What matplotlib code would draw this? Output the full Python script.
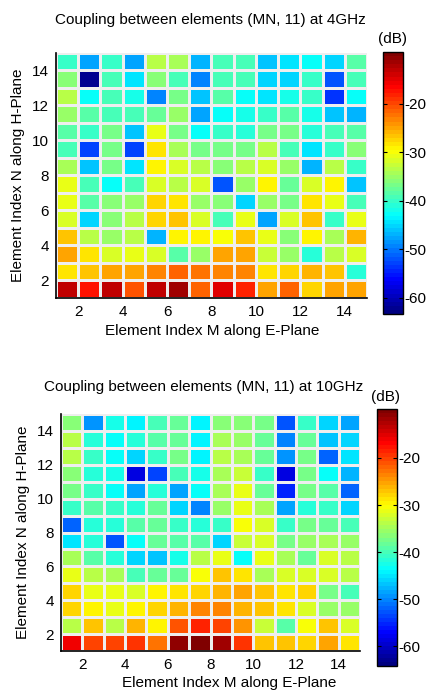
import numpy as np
import matplotlib
matplotlib.use("Agg")
import matplotlib.pyplot as plt
from matplotlib.colors import LinearSegmentedColormap

plt.rcParams['font.family'] = ['Liberation Sans', 'DejaVu Sans']
plt.rcParams['axes.unicode_minus'] = False

# Element indices (grid vertices) and tick labels
element_edges = list(range(1, 16))
tick_values = [2, 4, 6, 8, 10, 12, 14]
cbar_ticks = [-60, -50, -40, -30, -20]

# Coupling (dB), rows N = 1..14 (bottom -> top), columns M = 1..14
coupling_4ghz = [
    [-13, -17, -13.5, -21, -13.5, -11.5, -21.5, -14.5, -18, -24.5, -21.5, -27.5, -25, -24.5],
    [-28, -26.5, -24.5, -25, -23.5, -21.5, -22, -23, -23, -28.5, -27.5, -25.5, -26.5, -41],
    [-25, -28, -31.5, -31, -31.5, -38, -35, -24.5, -25, -32.5, -35, -41, -33, -32],
    [-26.5, -33.5, -35, -33, -46.5, -29, -29, -30, -26.5, -30.5, -36, -29, -34.5, -26],
    [-31.5, -45, -36, -33.5, -27.5, -27, -31.5, -39.5, -31, -48, -32, -26.5, -40, -31],
    [-30.5, -38, -36, -35, -27.5, -28, -35, -35.5, -45.5, -35, -37, -28.5, -30.5, -39.5],
    [-30.5, -39, -43, -39.5, -31.5, -33.5, -32, -52, -35, -29, -37.5, -32, -29.5, -46],
    [-34, -46, -37, -44.5, -29.5, -32, -33.5, -36, -33, -31.5, -35, -47, -33, -40],
    [-39, -53, -36.5, -53, -28.5, -34.5, -37, -36.5, -36.5, -33.5, -39, -44, -40, -36],
    [-38, -40.5, -36.5, -46, -31, -36.5, -43, -40.5, -41, -37, -36.5, -41, -39.5, -38],
    [-35, -38.5, -39.5, -39, -37.5, -35, -47.5, -42.5, -41.5, -40.5, -38, -41.5, -46, -47],
    [-33.5, -43, -39, -41.5, -49, -36.5, -46, -38.5, -42.5, -44, -42, -40, -54, -43],
    [-36, -62, -39, -44.5, -36, -39, -49, -39, -39.5, -45, -45, -40.5, -51.5, -39],
    [-40, -48, -40.5, -47.5, -33.5, -34.5, -47, -39, -39.5, -46, -44.5, -42.5, -45, -38.5],
]

coupling_10ghz = [
    [-16, -20.5, -20.5, -19.5, -22.5, -11, -10, -12, -19, -27.5, -27, -28, -25.5, -28.5],
    [-33.5, -27.5, -34, -26.5, -30, -21.5, -18.5, -20, -24.5, -33, -39, -30.5, -27, -32],
    [-28, -30, -31.5, -30, -28, -26, -24, -24, -26.5, -27.5, -29, -32.5, -35.5, -36],
    [-28, -31, -31.5, -32.5, -30, -29, -28, -26, -25, -27.5, -29, -28, -37, -39.5],
    [-31, -34, -34.5, -39.5, -38, -38.5, -30.5, -27.5, -29, -35, -32, -32.5, -32.5, -34],
    [-35, -39, -41.5, -46, -47, -42.5, -34, -31.5, -43.5, -31.5, -35, -38.5, -32, -34],
    [-45, -41.5, -53, -43.5, -38.5, -39, -39, -45.5, -33, -32, -37.5, -35.5, -34.5, -35.5],
    [-52, -41.5, -42, -39, -38, -40.5, -42, -40.5, -30.5, -32, -40.5, -37.5, -38.5, -40],
    [-40.5, -39, -40.5, -42, -38.5, -46, -50, -36, -31, -35, -48, -41.5, -40.5, -45.5],
    [-37.5, -41, -43, -48.5, -42, -48.5, -43.5, -35, -31.5, -38, -55, -37, -39, -52],
    [-36.5, -41.5, -42.5, -58.5, -53.5, -40, -42.5, -35, -33, -41, -59, -37, -43, -47.5],
    [-33.5, -40.5, -43.5, -46, -41, -37.5, -44, -33.5, -35, -38.5, -49, -37, -51.5, -45],
    [-34, -41.5, -43, -41.5, -39, -38, -44, -34.5, -36, -38, -50.5, -38.5, -47, -45.5],
    [-36.5, -49, -42.5, -44.5, -39.5, -38, -44, -36.5, -36.5, -37, -52.5, -40.5, -45.5, -48],
]

titles = ["Coupling between elements (MN, 11) at 4GHz",
          "Coupling between elements (MN, 11) at 10GHz"]
xlabel_text = "Element Index M along E-Plane"
ylabel_text = "Element Index N along H-Plane"

cmap = LinearSegmentedColormap.from_list(
    "matlab_jet",
    [(0.0, (0, 0, 0.5)), (0.125, (0, 0, 1)), (0.375, (0, 1, 1)),
     (0.625, (1, 1, 0)), (0.875, (1, 0, 0)), (1.0, (0.5, 0, 0))], N=64)

W, H = 427, 693
fig = plt.figure(figsize=(W / 100, H / 100), dpi=100)

def rect(l, r, t, b):
    return [l / W, 1 - b / H, (r - l) / W, (b - t) / H]

panels = [
    dict(data=coupling_4ghz, ax=rect(56, 367, 53, 298), cax=rect(383, 403, 52, 314),
         clim=(-63.3, -9.3), title=(210, 20), xl=(212, 331), yl=(18, 175), db=(393, 39)),
    dict(data=coupling_10ghz, ax=rect(61, 360, 414, 651), cax=rect(377, 397, 409, 666),
         clim=(-64.2, -9.6), title=(204, 387), xl=(229, 683), yl=(23, 532), db=(386, 397)),
]

FS = 10
for p, title in zip(panels, titles):
    ax = fig.add_axes(p["ax"])
    edges = np.array(element_edges)
    mesh = ax.pcolormesh(edges, edges, np.array(p["data"]), cmap=cmap,
                         vmin=p["clim"][0], vmax=p["clim"][1],
                         edgecolors="#eeeeee", linewidth=0.8)
    ax.set_xlim(1, 15)
    ax.set_ylim(1, 15)
    ax.set_xticks(tick_values)
    ax.set_yticks(tick_values)
    ax.tick_params(length=0, labelsize=FS + 1, pad=5)
    for s in ["top", "right"]:
        ax.spines[s].set_visible(False)
    for s in ["left", "bottom"]:
        ax.spines[s].set_color("black")
        ax.spines[s].set_linewidth(1.2)

    cax = fig.add_axes(p["cax"])
    cb = fig.colorbar(mesh, cax=cax)
    cb.set_ticks(cbar_ticks)
    cb.outline.set_edgecolor("black")
    cb.outline.set_linewidth(1.0)
    cax.tick_params(direction="in", length=3, left=True, right=True,
                    labelsize=FS + 1, pad=1, width=0.8)

    fig.text(p["title"][0] / W, 1 - p["title"][1] / H, title,
             ha="center", va="center", fontsize=FS + 1)
    fig.text(p["xl"][0] / W, 1 - p["xl"][1] / H, xlabel_text,
             ha="center", va="center", fontsize=FS + 1)
    fig.text(p["yl"][0] / W, 1 - p["yl"][1] / H, ylabel_text,
             ha="center", va="center", rotation=90, fontsize=FS + 1)
    fig.text(p["db"][0] / W, 1 - p["db"][1] / H, "(dB)",
             ha="center", va="center", fontsize=FS + 1)

fig.savefig("out.png", dpi=100)
